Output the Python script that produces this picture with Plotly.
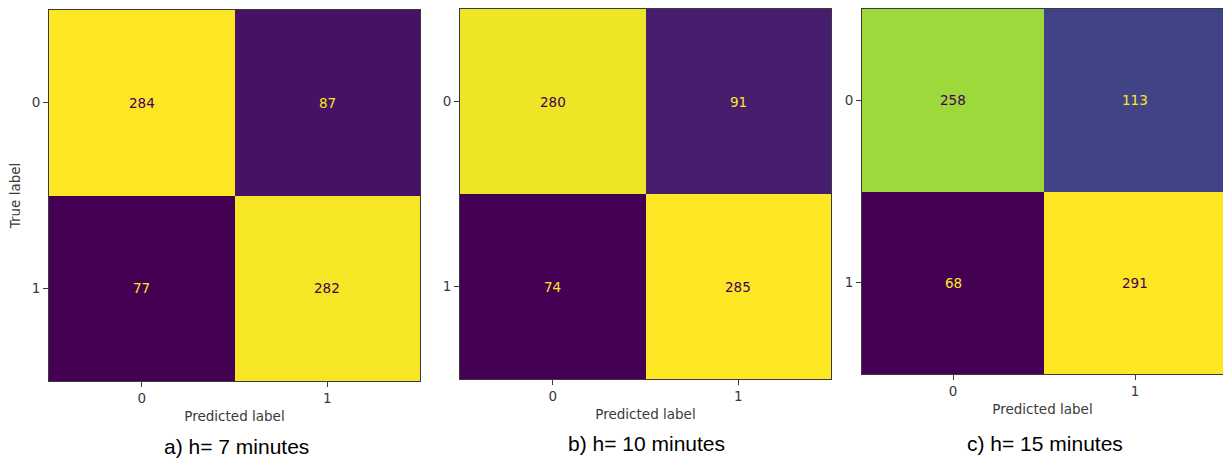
import plotly.graph_objects as go

# ---- data ----
class_labels = ["0", "1"]
cm_7min = [[284, 87], [77, 282]]
cm_10min = [[280, 91], [74, 285]]
cm_15min = [[258, 113], [68, 291]]
captions = ["a) h= 7 minutes", "b) h= 10 minutes", "c) h= 15 minutes"]

matrices = [cm_7min, cm_10min, cm_15min]

W, H = 1223, 459

def px_x(v):
    return v / W

def px_y(v):
    return 1 - v / H

# panel pixel boxes: (left, top, right, bottom)
boxes = [(49, 10, 420, 381), (460, 9, 831, 379), (862, 9, 1223, 374)]
xranges = [[-0.5, 1.5], [-0.5, 1.5], [-0.5, 1.5 - 3 / 182]]
caption_pos = [(236, 446), (646, 443), (1045, 443)]

DARK = "#440154"
BRIGHT = "#fde725"
FRAME = "#3a3a3a"
TXT = "#3a3a3a"
FONT = "DejaVu Sans"

fig = go.Figure()
idx = [0, 1]

for k, cm in enumerate(matrices):
    sfx = "" if k == 0 else str(k + 1)
    zmin = min(min(r) for r in cm)
    zmax = max(max(r) for r in cm)
    fig.add_trace(go.Heatmap(
        z=cm, x=idx, y=idx, colorscale="Viridis", zmin=zmin, zmax=zmax,
        showscale=False, xaxis="x" + sfx, yaxis="y" + sfx, hoverinfo="z",
        xgap=0, ygap=0,
    ))
    thresh = (zmin + zmax) / 2
    for i in idx:
        for j in idx:
            v = cm[i][j]
            fig.add_annotation(
                x=j, y=i, xref="x" + sfx, yref="y" + sfx, text=str(v),
                showarrow=False,
                font=dict(family=FONT, size=13.5, color=BRIGHT if v < thresh else DARK),
            )
    l, t, r, b = boxes[k]
    is_last = k == 2
    xa = dict(
        domain=[px_x(l), px_x(r)], range=xranges[k], anchor="y" + sfx,
        tickvals=idx, ticktext=class_labels, ticks="outside", ticklen=5,
        tickcolor=FRAME, showgrid=False, zeroline=False, showline=True,
        linecolor=FRAME, linewidth=1, mirror=True,
        tickfont=dict(family=FONT, size=13.5, color=TXT),
        title=dict(text="Predicted label", standoff=6,
                   font=dict(family=FONT, size=13.5, color=TXT)),
        fixedrange=True,
    )
    ya = dict(
        domain=[px_y(b), px_y(t)], range=[1.5, -0.5], anchor="x" + sfx,
        tickvals=idx, ticktext=class_labels, ticks="outside", ticklen=5,
        tickcolor=FRAME, showgrid=False, zeroline=False, showline=True,
        linecolor=FRAME, linewidth=1, mirror=False if is_last else True,
        tickfont=dict(family=FONT, size=13.5, color=TXT),
        fixedrange=True,
    )
    if k == 0:
        ya["title"] = dict(text="True label", standoff=7,
                           font=dict(family=FONT, size=13.5, color=TXT))
    fig.update_layout(**{"xaxis" + sfx: xa, "yaxis" + sfx: ya})
    cx, cy = caption_pos[k]
    fig.add_annotation(
        x=px_x(cx), y=px_y(cy), xref="paper", yref="paper", text=captions[k],
        showarrow=False, xanchor="center", yanchor="middle",
        font=dict(family="Liberation Sans, Arial", size=21, color="#000000"),
    )

fig.update_layout(
    width=W, height=H, margin=dict(l=0, r=0, t=0, b=0),
    paper_bgcolor="white", plot_bgcolor="white", showlegend=False,
)

fig.write_html(
    "out.html",
    config={"displayModeBar": False},
    post_script="document.body.style.margin='0';document.body.style.overflow='hidden';",
)
